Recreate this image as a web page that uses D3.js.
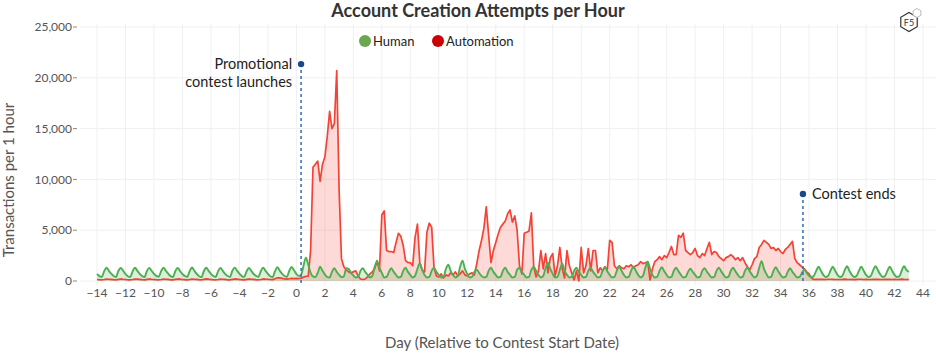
<!DOCTYPE html>
<html><head><meta charset="utf-8">
<script src="https://cdn.jsdelivr.net/npm/d3@7"></script>
<style>body{margin:0;background:#fff} svg{display:block;font-family:Lato,"Open Sans",sans-serif}</style>
</head><body><svg id="chart" width="936" height="358"></svg>
<script>
const chartTitle = "Account Creation Attempts per Hour";
const seriesNames = ["Human", "Automation"];
const xTickValues = [-14,-12,-10,-8,-6,-4,-2,0,2,4,6,8,10,12,14,16,18,20,22,24,26,28,30,32,34,36,38,40,42,44];
const yTickValues = [0,5000,10000,15000,20000,25000];
const xAxisTitle = "Day (Relative to Contest Start Date)";
const yAxisTitle = "Transactions per 1 hour";
const firstDay = -14;
const samplesPerDay = 6; // one sample every 4 hours

const human = [
  700,480,400,950,1300,1000,   // -14
  720,500,380,980,1280,1020,
  690,470,400,940,1320,990,
  710,490,390,960,1290,1010,
  700,500,410,950,1310,1000,   // -10
  720,480,390,970,1280,980,
  690,500,400,940,1330,1010,
  700,470,380,960,1300,1000,
  710,490,400,950,1290,990,
  700,500,390,980,1320,1020,   // -5
  720,480,410,940,1280,1000,
  690,500,400,960,1310,990,
  710,470,390,970,1350,1010,
  700,490,400,1000,1380,1050,
  700,500,600,1500,2300,1600,  // 0
  800,450,380,800,1400,1000,
  650,380,350,900,1250,900,
  600,380,450,1250,1200,800,
  550,350,400,1000,1250,900,
  600,350,500,1400,1950,1300,  // 5
  800,350,400,900,1250,900,
  600,350,400,1000,1300,900,
  600,350,500,1200,1750,1100,
  600,350,400,1000,1300,900,
  600,350,400,1200,1600,1000,  // 10
  600,350,500,1400,2000,1200,
  700,350,400,900,1100,800,
  500,350,400,1000,1300,900,
  600,350,400,1000,1300,900,
  600,350,400,1100,1300,900,   // 15
  600,350,400,1100,1400,1000,
  600,350,500,1300,1800,1200,
  700,350,400,1100,1700,1000,
  600,350,400,1000,1300,900,
  600,350,400,1000,1300,900,   // 20
  600,350,400,1000,1350,950,
  600,350,400,1000,1400,1000,
  600,350,400,1000,1400,1000,
  600,350,500,1300,1900,1200,
  600,350,400,1000,1350,950,   // 25
  600,350,400,1000,1300,950,
  600,350,400,900,1200,900,
  600,350,400,1000,1250,900,
  600,350,400,1000,1300,950,
  600,350,400,1000,1300,950,   // 30
  600,350,400,1000,1300,950,
  600,350,500,1300,1950,1200,
  700,350,400,1000,1350,950,
  600,350,400,900,1250,900,
  600,350,400,800,1100,800,    // 35
  500,350,500,1000,1400,1000,
  600,400,500,1000,1400,1000,
  600,400,500,1050,1450,1000,
  600,400,500,1000,1400,1000,
  600,400,500,1050,1450,1050,  // 40
  650,400,500,1000,1400,1000,
  600,400,450,1000,1450,1100,
  900                          // 43
];

const automation = [
  150,130,120,150,190,170,     // -14
  160,130,120,160,200,170,
  150,120,120,150,190,180,
  160,130,110,160,200,170,
  150,130,120,150,190,170,     // -10
  160,120,120,160,200,180,
  150,130,110,150,190,170,
  160,130,120,160,210,180,
  150,130,120,150,190,170,
  160,120,120,160,200,180,     // -5
  150,130,110,160,200,170,
  160,130,120,150,200,180,
  170,150,140,220,320,300,
  260,200,180,220,260,240,
  250,240,280,380,450,480,     // 0
  3000,11200,11500,11800,9800,11500,
  12200,14200,16700,15000,15500,20700,
  9000,2200,1400,1100,900,800,
  900,1000,500,200,150,200,
  400,700,900,1200,2000,1000,  // 5
  6500,6900,3000,2900,2900,2800,
  3800,4700,4400,3500,2000,1800,
  1800,1500,4300,5600,1800,1100,
  900,4800,5700,5300,1300,500,
  400,700,300,600,500,800,     // 10
  600,900,500,700,1000,600,
  500,700,800,600,1700,3000,
  4000,5200,7300,4500,1800,3000,
  3800,4600,5300,5600,5900,6600,
  7000,5800,6400,5000,1500,700, // 15
  4700,4800,4900,6700,1400,400,
  1000,3000,1200,2700,800,2300,
  2700,500,1500,3300,1200,300,
  3000,1500,800,100,1000,0,
  3300,800,1500,3200,1000,3000, // 20
  3000,800,1300,1000,1400,1100,
  4000,3800,1500,1200,1500,1300,
  1200,1500,1400,1600,1300,1500,
  1600,1900,1700,1800,1900,100,
  1200,1900,2100,2400,2100,2500, // 25
  2300,2800,3400,2600,2600,4500,
  4300,4700,3000,2800,2600,2800,
  3200,2500,2300,2700,2500,3200,
  3800,2600,2900,2800,2400,2200,
  2000,2300,2400,2600,2400,2100, // 30
  2300,2000,2300,1800,1400,1100,
  1600,2200,2400,3300,3600,4000,
  3800,3600,3200,3300,3000,3200,
  2900,2700,3100,3300,3600,3900,
  2200,1800,1600,1400,1200,900,  // 35
  700,300,150,160,170,160,
  160,150,170,170,160,150,
  150,150,160,180,160,150,
  160,140,160,170,170,150,
  160,150,150,170,160,160,       // 40
  150,150,160,170,160,150,
  160,150,160,180,160,150,
  160                            // 43
];

const annotationDays = [0.33, 35.57];
const annotationValues = [21350, 8560];
const annotationLabels = [["Promotional", "contest launches"], ["Contest ends"]];

const humanColor = "#4caf50", autoColor = "#f44336";
const legendColors = ["#6aa84f", "#cc0000"];

const svg = d3.select("#chart");
const x = d3.scaleLinear().domain([-14, 44]).range([97, 923]);
const y = d3.scaleLinear().domain([0, 25000]).range([281, 27]);
const fmt = d3.format(",");

// grid
const grid = svg.append("g");
grid.selectAll("line.v").data(xTickValues).join("line")
  .attr("x1", d => x(d)).attr("x2", d => x(d)).attr("y1", 24).attr("y2", 285)
  .attr("stroke", "#f0f0f0").attr("stroke-width", 1);
grid.selectAll("line.h").data(yTickValues).join("line")
  .attr("x1", 80).attr("x2", 936).attr("y1", d => y(d)).attr("y2", d => y(d))
  .attr("stroke", "#f0f0f0").attr("stroke-width", 1);

// y axis labels
const yg = svg.append("g");
yg.selectAll("text").data(yTickValues).join("text")
  .attr("x", 72).attr("y", d => y(d)).attr("dy", "0.35em")
  .attr("text-anchor", "end").attr("font-size", 12).attr("fill", "#555")
  .text(d => fmt(d));
yg.selectAll("line").data(yTickValues).join("line")
  .attr("x1", 73).attr("x2", 77).attr("y1", d => y(d)).attr("y2", d => y(d))
  .attr("stroke", "#888");

// x axis labels
svg.append("g").selectAll("text").data(xTickValues).join("text")
  .attr("x", d => x(d)).attr("y", 297)
  .attr("text-anchor", "middle").attr("font-size", 12).attr("fill", "#555")
  .text(d => fmt(d));

// series
const toPoints = arr => arr.map((v, i) => ({day: firstDay + i / samplesPerDay, v}));
const humanPts = toPoints(human), autoPts = toPoints(automation);
const area = d3.area().x(d => x(d.day)).y0(y(0)).y1(d => y(d.v));
const line = d3.line().x(d => x(d.day)).y(d => y(d.v));
const areaSmooth = d3.area().curve(d3.curveMonotoneX).x(d => x(d.day)).y0(y(0)).y1(d => y(d.v));
const lineSmooth = d3.line().curve(d3.curveMonotoneX).x(d => x(d.day)).y(d => y(d.v));

svg.append("path").datum(autoPts).attr("d", area).attr("fill", autoColor).attr("fill-opacity", 0.2);
svg.append("path").datum(humanPts).attr("d", areaSmooth).attr("fill", humanColor).attr("fill-opacity", 0.2);
svg.append("path").datum(autoPts).attr("d", line).attr("fill", "none").attr("stroke", autoColor).attr("stroke-width", 1.7).attr("stroke-linejoin", "round");
svg.append("path").datum(humanPts).attr("d", lineSmooth).attr("fill", "none").attr("stroke", humanColor).attr("stroke-width", 1.9).attr("stroke-linejoin", "round");

// annotations
annotationDays.forEach((d, i) => {
  const ax = x(d), ay = y(annotationValues[i]);
  svg.append("line").attr("x1", ax).attr("x2", ax).attr("y1", ay).attr("y2", y(0) + 2)
    .attr("stroke", "#2f6db5").attr("stroke-width", 1.5).attr("stroke-dasharray", "3,3");
  svg.append("circle").attr("cx", ax).attr("cy", ay).attr("r", 3.2).attr("fill", "#174a8b");
  const lines = annotationLabels[i];
  const right = i === 0;
  lines.forEach((t, j) => {
    svg.append("text")
      .attr("x", right ? ax - 9 : ax + 9)
      .attr("y", ay + (lines.length === 1 ? 5 : 5 + j * 18))
      .attr("text-anchor", right ? "end" : "start")
      .attr("font-size", 14.5).attr("fill", "#222").text(t);
  });
});

// title
svg.append("text").attr("x", 478).attr("y", 17).attr("text-anchor", "middle")
  .attr("font-size", 18).attr("font-weight", "bold").attr("fill", "#333").text(chartTitle);

// legend
const legendX = [365, 438];
seriesNames.forEach((n, i) => {
  svg.append("circle").attr("cx", legendX[i]).attr("cy", 41).attr("r", 6).attr("fill", legendColors[i]);
  svg.append("text").attr("x", legendX[i] + 8).attr("y", 46).attr("font-size", 13).attr("fill", "#222").text(n);
});

// axis titles
svg.append("text").attr("x", 502).attr("y", 348).attr("text-anchor", "middle")
  .attr("font-size", 15).attr("fill", "#555").text(xAxisTitle);
svg.append("text").attr("transform", "translate(14,180) rotate(-90)").attr("text-anchor", "middle")
  .attr("font-size", 15).attr("fill", "#555").text(yAxisTitle);

// logo
const hex = (cx, cy, r) => d3.range(6).map(k => {
  const a = Math.PI / 3 * k - Math.PI / 2;
  return [cx + r * Math.cos(a), cy + r * Math.sin(a)];
});
svg.append("polygon").attr("points", hex(909, 22, 9.5).join(" ")).attr("fill", "#fff").attr("stroke", "#333").attr("stroke-width", 1.2);
svg.append("polygon").attr("points", hex(917, 13, 4.5).join(" ")).attr("fill", "#fff").attr("stroke", "#bbb").attr("stroke-width", 1);
svg.append("text").attr("x", 909).attr("y", 25.5).attr("text-anchor", "middle").attr("font-size", 9).attr("fill", "#333").text("F5");
</script></body></html>
